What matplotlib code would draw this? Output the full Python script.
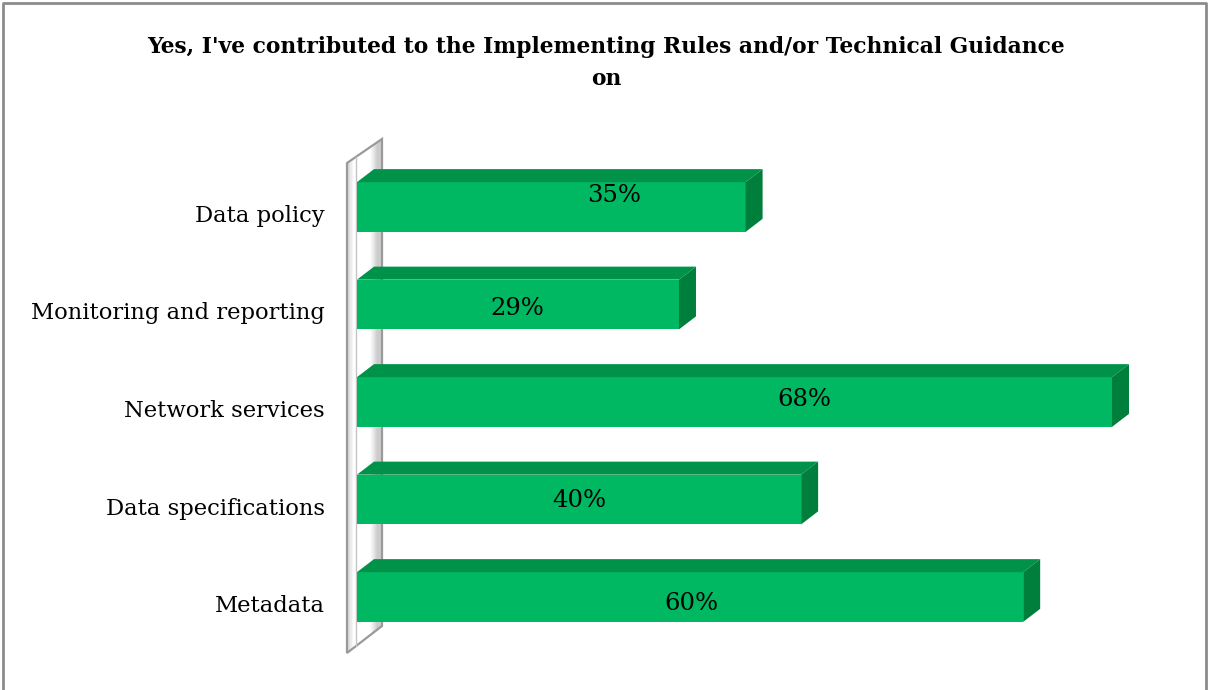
import matplotlib
matplotlib.use("Agg")
import matplotlib.pyplot as plt
from matplotlib.patches import Polygon
from matplotlib.transforms import IdentityTransform
import numpy as np

# ---- data -------------------------------------------------------------
categories = ["Metadata", "Data specifications", "Network services",
              "Monitoring and reporting", "Data policy"]
values = [60, 40, 68, 29, 35]
value_labels = ["60%", "40%", "68%", "29%", "35%"]
title = "Yes, I've contributed to the Implementing Rules and/or Technical Guidance\non"

# ---- styling ------------------------------------------------------------
W, H, DPI = 1208, 690, 100
FONT = ["DejaVu Serif"]
FRONT = "#00b862"
TOP = "#009249"
SIDE = "#007f3c"
DEPTH = (17, 13)            # pixel offset for the 3-D depth of the bars
# nudges (pixels, right / up) for the value labels
label_nudge = [(1, -6), (0, -1), (70, 3), (-1, -4), (63, 12)]

fig = plt.figure(figsize=(W / DPI, H / DPI), dpi=DPI)
fig.patch.set_facecolor("white")

# plot area placed in pixel units (x: 0 at 357 px, 68 at 1112 px)
px_per_unit = (1112 - 357) / 68.0
x_max = 75
left_px, right_px = 357, 357 + x_max * px_per_unit
top_px, bot_px = 158.25, 645.75
ax = fig.add_axes([left_px / W, (H - bot_px) / H,
                   (right_px - left_px) / W, (bot_px - top_px) / H])
ax.set_xlim(0, x_max)
ax.set_ylim(-0.5, len(categories) - 0.5)
ax.axis("off")
ax.set_zorder(3)

ident = IdentityTransform()


def disp(px, py):
    """top-left pixel coordinates -> display coordinates"""
    return (px, H - py)


# ---- back wall (axis wall) -----------------------------------------------
wx0, wx1 = 347, 382
y_top0, y_top1 = 163, 139      # top edge: left end, right end
y_bot0, y_bot1 = 653, 626      # bottom edge: left end, right end
n_strips = 35
xs = np.linspace(wx0, wx1, n_strips + 1)
for a, b in zip(xs[:-1], xs[1:]):
    t = ((a + b) / 2 - wx0) / (wx1 - wx0)
    # darker near the front edge, white in the middle, light grey at the back
    g = 0.80 + 0.20 * np.clip(np.sin(np.pi * min(t * 1.15, 1.0)) * 1.5, 0, 1)
    ta, tb = (a - wx0) / (wx1 - wx0), (b - wx0) / (wx1 - wx0)
    pts = [disp(a, y_top0 + (y_top1 - y_top0) * ta),
           disp(b, y_top0 + (y_top1 - y_top0) * tb),
           disp(b, y_bot0 + (y_bot1 - y_bot0) * tb),
           disp(a, y_bot0 + (y_bot1 - y_bot0) * ta)]
    fig.add_artist(Polygon(pts, closed=True, transform=ident,
                           facecolor=(g, g, g), edgecolor=(g, g, g),
                           lw=0.3, zorder=1))
wall_outer = [disp(wx0, y_top0), disp(wx1, y_top1),
              disp(wx1, y_bot1), disp(wx0, y_bot0)]
fig.add_artist(Polygon(wall_outer, closed=True, transform=ident,
                       facecolor="none", edgecolor="#9a9a9a", lw=1.6, zorder=2))
fig.add_artist(plt.Line2D([356, 356], [H - 157, H - 646], transform=ident,
                          color="#c4c4c4", lw=1.0, zorder=2))

# ---- bars -----------------------------------------------------------------
ypos = np.arange(len(categories))
bar_h = 0.51
ax.barh(ypos, values, height=bar_h, color=FRONT, edgecolor="none", zorder=5)

dx, dy = DEPTH
for y, v in zip(ypos, values):
    (x0, yb), (x1, yt) = ax.transData.transform([(0, y - bar_h / 2),
                                                  (v, y + bar_h / 2)])
    top = [(x0, yt), (x1, yt), (x1 + dx, yt + dy), (x0 + dx, yt + dy)]
    side = [(x1, yb), (x1, yt), (x1 + dx, yt + dy), (x1 + dx, yb + dy)]
    fig.add_artist(Polygon(top, closed=True, transform=ident,
                           facecolor=TOP, edgecolor="none", zorder=6))
    fig.add_artist(Polygon(side, closed=True, transform=ident,
                           facecolor=SIDE, edgecolor="none", zorder=6))

# value labels
for y, v, lab, (nx, ny) in zip(ypos, values, value_labels, label_nudge):
    cx, cy = ax.transData.transform((v / 2, y))
    fig.text(cx + nx, cy + ny, lab, transform=ident, ha="center",
             va="center", fontsize=17.5, family=FONT, color="black", zorder=8)

# category labels
for y, c in zip(ypos, categories):
    _, cy = ax.transData.transform((0, y))
    fig.text(325, cy - 9, c, transform=ident, ha="right", va="center",
             fontsize=16.3, family=FONT, color="black")

# ---- title ------------------------------------------------------------------
fig.text(606 / W, 1 - 63 / H, title, ha="center", va="center",
         fontsize=15.7, fontweight="bold", family=FONT, linespacing=1.6)

# ---- chart border (left, top, right) ----------------------------------------
fig.add_artist(plt.Line2D([3, 3, 1206, 1206], [-5, H - 3, H - 3, -5],
                          transform=ident, color="#8c8c8c", lw=2.0,
                          zorder=10))

fig.savefig("out.png", dpi=DPI, facecolor="white")
